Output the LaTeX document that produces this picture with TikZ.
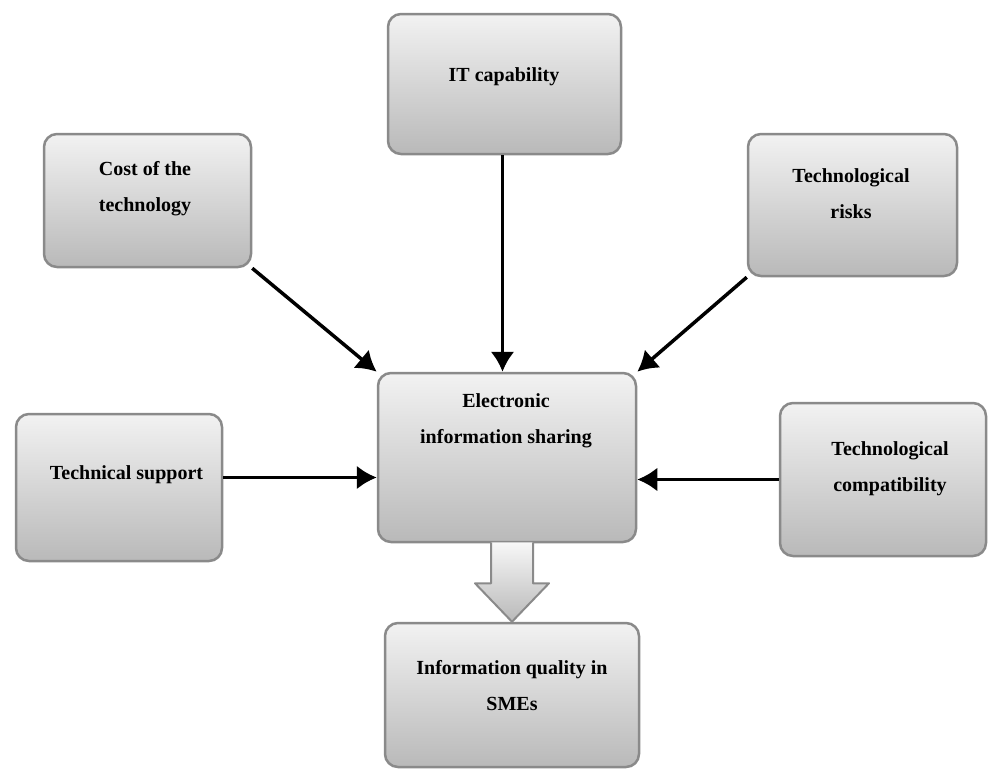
\documentclass[tikz,border=0pt]{standalone}
\usepackage{fontspec}
\setmainfont{Liberation Serif}
\usetikzlibrary{arrows.meta,calc}
\definecolor{boxtop}{HTML}{F2F2F2}
\definecolor{boxbot}{HTML}{B9B9B9}
\definecolor{boxline}{HTML}{8A8A8A}
\begin{document}
\begin{tikzpicture}[x=1pt,y=-1pt,line join=round,
	box/.style={draw=boxline,line width=2.5pt,rounded corners=13pt,top color=boxtop,bottom color=boxbot,inner sep=0pt},
	lbl/.style={align=center,inner sep=0pt,font=\bfseries\fontsize{20}{36}\selectfont},
	link/.style={line width=3.5pt,-{Latex[length=20pt,width=24pt]}},
	bigarrow/.style={draw=boxline,line width=2pt,top color=boxtop!60!white,bottom color=boxbot}]
	\useasboundingbox (0,0) rectangle (989,771);
	% boxes: name/centre x/centre y/width/height
	\foreach \n/\x/\y/\w/\h in {it/504.5/84/233/140, cost/147.5/200.5/207/133,
		risks/852.5/205/209/142, eis/507/457.5/258/169, support/119/487.5/206/147,
		compat/883/479.5/206/153, info/512/695/254/144}{
		\node[box,minimum width=\w pt,minimum height=\h pt] (\n) at (\x,\y) {};
	}
	% texts
	\node[lbl] (it-t) at (504,77) {IT capability};
	\node[lbl] (cost-t) at (145,188.5) {Cost of the\\technology};
	\node[lbl] (risks-t) at (851,193.5) {Technological\\risks};
	\node[lbl] (eis-t) at (506,420.5) {Electronic\\information sharing};
	\node[lbl] (support-t) at (126.5,475) {Technical support};
	\node[lbl] (compat-t) at (890,469) {Technological\\compatibility};
	\node[lbl] (info-t) at (512,686) {Information quality in\\SMEs};
	% arrows
	\draw[link] ([xshift=-2pt]it.south) -- ([xshift=-2pt]it.south |- eis.north);
	\draw[link] (cost.south east) -- (eis.north west);
	\draw[link] (risks.south west) -- (eis.north east);
	\draw[link] ([yshift=10pt]support.east) -- ([yshift=10pt]support.east -| eis.west);
	\draw[link] (compat.west) -- (compat.west -| eis.east);
	\coordinate (s) at (eis.south -| info.north);
	\draw[bigarrow] ($(s)+(-21,-1)$) -- ($(s)+(-21,40)$) -- ($(s)+(-37,40)$) -- (info.north)
		-- ($(s)+(37,40)$) -- ($(s)+(21,40)$) -- ($(s)+(21,-1)$);
\end{tikzpicture}
\end{document}
